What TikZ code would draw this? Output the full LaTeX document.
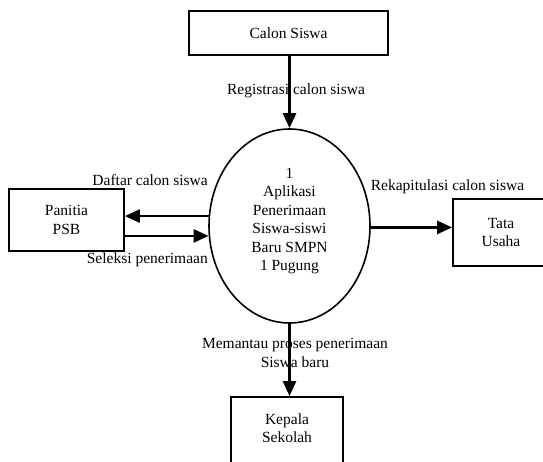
\documentclass[tikz,border=0pt]{standalone}
\usepackage{fontspec}
\setmainfont{Liberation Serif}
\usetikzlibrary{arrows.meta,shapes.geometric}
\begin{document}
\begin{tikzpicture}[x=1pt,y=-1pt,
  font=\fontsize{15.5}{18.5}\selectfont,
  box/.style={draw, line width=1.8pt, rectangle, inner sep=0pt, align=center},
  flow/.style={line width=2.6pt, -{Triangle[length=15pt,width=13pt]}},
  lbl/.style={inner sep=0pt, align=center}]
\clip[use as bounding box] (0,0) rectangle (543,462);
% entities
\node[box, minimum width=199pt, minimum height=44pt] (calon) at (288.5,33) {Calon Siswa};
\node[draw, ellipse, line width=1.6pt, minimum width=161pt, minimum height=194pt, inner sep=0pt] (proc) at (289.5,226) {};
\node[lbl] (proctext) at (289.5,221) {1\\Aplikasi\\Penerimaan\\Siswa-siswi\\Baru SMPN\\1 Pugung};
\node[box, minimum width=115pt, minimum height=62pt] (panitia) at (66.5,220) {Panitia\\PSB};
\node[box, minimum width=96pt, minimum height=67pt] (tata) at (501,232.5) {Tata\\Usaha};
\node[box, minimum width=112pt, minimum height=75pt] (kepala) at (287,434.5) {};
\node[lbl] (kepalatext) at (287,428) {Kepala\\Sekolah};
% labels
\node[lbl] (lreg) at (296,91) {Registrasi calon siswa};
\node[lbl, anchor=east] (ldaftar) at (208,180) {Daftar calon siswa};
\node[lbl, anchor=east] (lseleksi) at (208,260) {Seleksi penerimaan};
\node[lbl] (lrekap) at (447.5,187) {Rekapitulasi calon siswa};
\node[lbl] (lmemantau) at (295,353) {Memantau proses penerimaan\\Siswa baru};
% flows
\draw[flow] (proc.north |- calon.south) -- (proc.north);
\draw[flow] (proc.173) -- (proc.173 -| panitia.east);
\draw[flow] (proc.187 -| panitia.east) -- (proc.187);
\draw[flow] (proc.-1) -- (proc.-1 -| tata.west);
\draw[flow] (proc.south) -- (proc.south |- kepala.north);
\end{tikzpicture}
\end{document}
